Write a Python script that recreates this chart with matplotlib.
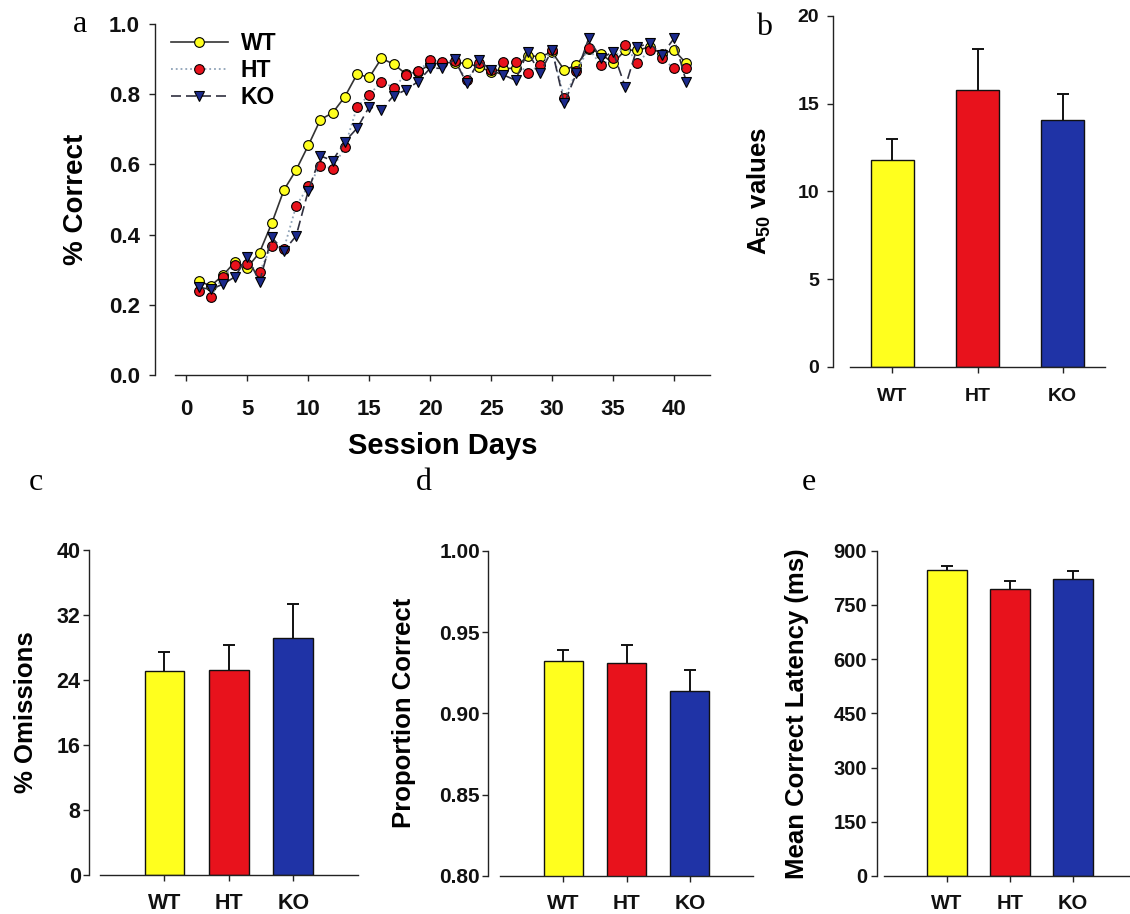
import numpy as np
import matplotlib
matplotlib.use("Agg")
import matplotlib.pyplot as plt

plt.rcParams['font.family'] = ['Liberation Sans', 'DejaVu Sans']
plt.rcParams['font.weight'] = 'bold'
plt.rcParams['mathtext.fontset'] = 'custom'
plt.rcParams['mathtext.rm'] = 'Liberation Sans:bold'
plt.rcParams['mathtext.bf'] = 'Liberation Sans:bold'

# ---- data ----
groups = ['WT', 'HT', 'KO']
days = np.arange(1, 42)

wt_correct = [0.268, 0.254, 0.284, 0.323, 0.306, 0.349, 0.432, 0.527, 0.584, 0.654,
              0.728, 0.747, 0.793, 0.857, 0.848, 0.902, 0.886, 0.858, 0.864, 0.885,
              0.890, 0.890, 0.888, 0.878, 0.864, 0.872, 0.875, 0.910, 0.907, 0.920,
              0.869, 0.883, 0.930, 0.916, 0.888, 0.926, 0.925, 0.935, 0.915, 0.926, 0.888]
ht_correct = [0.240, 0.223, 0.280, 0.313, 0.315, 0.294, 0.368, 0.360, 0.481, 0.538,
              0.596, 0.588, 0.650, 0.764, 0.798, 0.836, 0.819, 0.855, 0.865, 0.897,
              0.893, 0.895, 0.840, 0.890, 0.870, 0.893, 0.893, 0.860, 0.883, 0.926,
              0.788, 0.865, 0.931, 0.883, 0.902, 0.940, 0.888, 0.926, 0.902, 0.874, 0.874]
ko_correct = [0.250, 0.244, 0.259, 0.280, 0.337, 0.266, 0.392, 0.354, 0.396, 0.525,
              0.624, 0.611, 0.665, 0.703, 0.764, 0.755, 0.796, 0.812, 0.836, 0.874,
              0.874, 0.899, 0.831, 0.897, 0.868, 0.855, 0.840, 0.921, 0.860, 0.926,
              0.774, 0.860, 0.959, 0.902, 0.921, 0.821, 0.935, 0.945, 0.912, 0.959, 0.836]

a50_mean = [11.8, 15.8, 14.1]
a50_sem = [1.2, 2.3, 1.45]
omis_mean = [25.1, 25.2, 29.2]
omis_sem = [2.4, 3.1, 4.2]
prop_mean = [0.932, 0.931, 0.914]
prop_sem = [0.0067, 0.0111, 0.0129]
lat_mean = [846, 795, 823]
lat_sem = [12, 21, 21]

yellow = '#FFFF1E'
red = '#E8121C'
blue = '#1F33A6'
navy = '#1B2A8C'

fig = plt.figure(figsize=(11.3, 9.14), dpi=100)


def style_axes(ax, outward, ypad, xpad, tsize):
    ax.spines['top'].set_visible(False)
    ax.spines['right'].set_visible(False)
    ax.spines['left'].set_position(('outward', outward))
    for s in ('left', 'bottom'):
        ax.spines[s].set_linewidth(1.0)
        ax.spines[s].set_color('#222222')
    ax.tick_params(axis='y', direction='out', length=4, width=1, pad=ypad,
                   labelsize=tsize, colors='#222222', labelcolor='#111111')
    ax.tick_params(axis='x', direction='out', length=4, width=1, pad=xpad,
                   labelsize=tsize, colors='#222222', labelcolor='#111111')
    ax.patch.set_alpha(0)


# ---- panel a ----
ax = fig.add_axes([0.1549, 0.5897, 0.4735, 0.3840])
ax.plot(days, wt_correct, '-', color='#333333', lw=1.2, marker='o', ms=7,
        mfc=yellow, mec='black', mew=0.8, label='WT')
ax.plot(days, ht_correct, ':', color='#8FA3B8', lw=1.3, marker='o', ms=7,
        mfc=red, mec='black', mew=0.8, label='HT')
ax.plot(days, ko_correct, color='#303040', lw=1.2, ls=(0, (6, 3)), marker='v', ms=7.5,
        mfc=navy, mec='black', mew=0.8, label='KO')
ax.set_xlim(-0.93, 42.96)
ax.set_ylim(0, 1.0)
ax.set_xticks(np.arange(0, 41, 5))
ax.set_yticks(np.arange(0, 1.01, 0.2))
ax.set_yticklabels([f'{v:.1f}' for v in np.arange(0, 1.01, 0.2)])
style_axes(ax, 14.4, 7, 13, 16)
ax.set_ylabel('% Correct', fontsize=20, fontweight='bold')
ax.yaxis.set_label_coords(-0.160, 0.5)
ax.set_xlabel('Session Days', fontsize=21, fontweight='bold', labelpad=9)
leg = ax.legend(loc='upper left', bbox_to_anchor=(-0.008, 0.978), frameon=False,
                fontsize=16.5, handlelength=2.5, handletextpad=0.55, labelspacing=0.18,
                borderpad=0, borderaxespad=0, numpoints=1)
for t in leg.get_texts():
    t.set_fontweight('bold')


def bar_panel(rect, means, sems, ylim, yticks, yticklabels, ylabel, label_x,
              width, xlim, outward, ypad, tsize, xpad=11):
    ax = fig.add_axes(rect)
    x = np.arange(len(groups))
    tops = np.array(means) + np.array(sems)
    ax.bar(x, means, width=width, color=[yellow, red, blue], edgecolor='#111111',
           linewidth=1.0, zorder=2)
    # upper error bar only, with a small cap
    ax.vlines(x, means, tops, color='#111111', lw=1.4, zorder=1)
    ax.plot(x, tops, ls='none', marker='_', ms=8, mew=1.4, color='#111111', zorder=1)
    ax.set_xlim(*xlim)
    ax.set_ylim(*ylim)
    ax.set_xticks(x)
    ax.set_xticklabels(groups)
    ax.set_yticks(yticks)
    ax.set_yticklabels(yticklabels)
    style_axes(ax, outward, ypad, xpad, tsize)
    ax.set_ylabel(ylabel, fontsize=18.5, fontweight='bold')
    ax.yaxis.set_label_coords(label_x, 0.5)
    return ax


bar_panel([0.7522, 0.5985, 0.2257, 0.3840], a50_mean, a50_sem, (0, 20),
          [0, 5, 10, 15, 20], ['0', '5', '10', '15', '20'], r'A$_{50}$ values', -0.302,
          0.51, (-0.5, 2.5), 12.2, 6, 14)
bar_panel([0.0885, 0.0427, 0.2283, 0.3556], omis_mean, omis_sem, (0, 40),
          [0, 8, 16, 24, 32, 40], ['0', '8', '16', '24', '32', '40'], '% Omissions', -0.240,
          0.62, (-1, 3), 7.9, 2, 15.5, xpad=9)
bar_panel([0.4425, 0.0416, 0.2239, 0.3559], prop_mean, prop_sem, (0.80, 1.00),
          [0.80, 0.85, 0.90, 0.95, 1.00], ['0.80', '0.85', '0.90', '0.95', '1.00'],
          'Proportion Correct', -0.332, 0.62, (-1, 3), 8.4, 2, 15, xpad=9)
bar_panel([0.7823, 0.0416, 0.2230, 0.3559], lat_mean, lat_sem, (0, 900),
          [0, 150, 300, 450, 600, 750, 900], ['0', '150', '300', '450', '600', '750', '900'],
          'Mean Correct Latency (ms)', -0.298, 0.62, (-1, 3), 5.3, 3, 14.5, xpad=9)

# panel letters
letters = [('a', 79.5, 32), ('b', 764, 35), ('c', 36, 490), ('d', 424, 490), ('e', 809, 490)]
for txt, px, py in letters:
    fig.text(px / 1130, 1 - py / 914, txt, ha='center', va='baseline',
             fontsize=23, fontweight='normal', family=['Liberation Serif', 'DejaVu Serif'])

fig.savefig('out.png', dpi=100)
